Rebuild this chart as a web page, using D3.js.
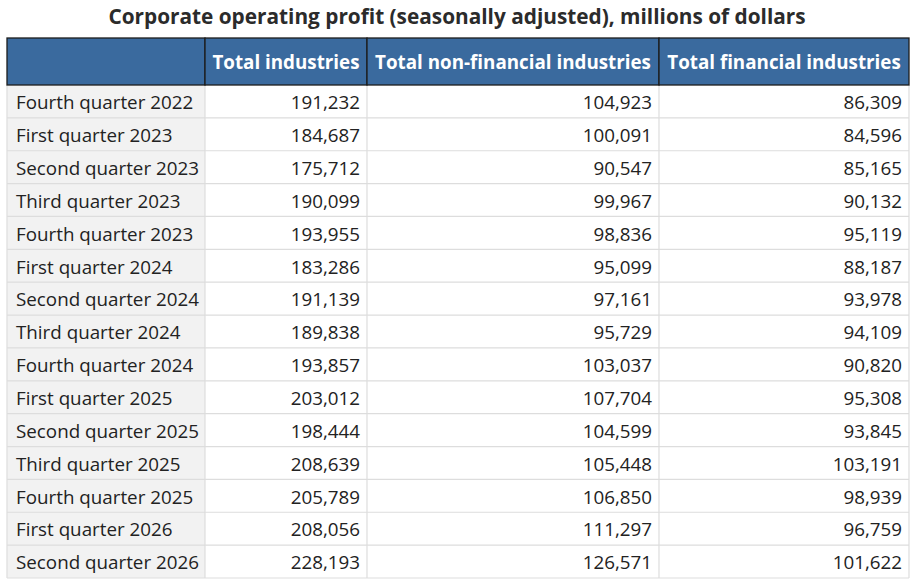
<!DOCTYPE html>
<html>
<head>
<meta charset="utf-8">
<script src="https://cdn.jsdelivr.net/npm/d3@7"></script>
<style>
  body { margin: 0; background: #fff; }
  svg text { font-family: "Open Sans", sans-serif; }
</style>
</head>
<body>
<div id="viz"></div>
<script>
var title = "Corporate operating profit (seasonally adjusted), millions of dollars";
var columns = ["Total industries", "Total non-financial industries", "Total financial industries"];
var quarters = [
  "Fourth quarter 2022", "First quarter 2023", "Second quarter 2023", "Third quarter 2023",
  "Fourth quarter 2023", "First quarter 2024", "Second quarter 2024", "Third quarter 2024",
  "Fourth quarter 2024", "First quarter 2025", "Second quarter 2025", "Third quarter 2025",
  "Fourth quarter 2025", "First quarter 2026", "Second quarter 2026"
];
var totalIndustries = [191232, 184687, 175712, 190099, 193955, 183286, 191139, 189838,
  193857, 203012, 198444, 208639, 205789, 208056, 228193];
var nonFinancial = [104923, 100091, 90547, 99967, 98836, 95099, 97161, 95729,
  103037, 107704, 104599, 105448, 106850, 111297, 126571];
var financial = [86309, 84596, 85165, 90132, 95119, 88187, 93978, 94109,
  90820, 95308, 93845, 103191, 98939, 96759, 101622];

var w = 912, h = 586;
var left = 7, right = 909;
var headTop = 38, headBottom = 85, tableBottom = 578;
// column edges (first col is labels)
var edges = [left, 205, 367, 659, right];

var rows = quarters.map(function(q, i){
  return { label: q, values: [totalIndustries[i], nonFinancial[i], financial[i]] };
});

var fmt = d3.format(",");

var y = d3.scaleBand()
  .domain(quarters)
  .range([headBottom, tableBottom]);

var svg = d3.select("#viz")
  .append("svg")
    .attr("width", w)
    .attr("height", h);

svg.append("text")
  .attr("x", w / 2 + 1)
  .attr("y", 16)
  .attr("text-anchor", "middle")
  .attr("dominant-baseline", "central")
  .style("font-size", "20.8px")
  .style("font-weight", "bold")
  .style("fill", "#2b2b2b")
  .text(title);

// body rows
var body = svg.append("g").attr("class", "body");

body.append("rect")
  .attr("x", edges[0])
  .attr("y", headBottom)
  .attr("width", edges[1] - edges[0])
  .attr("height", tableBottom - headBottom)
  .style("fill", "#f2f2f2");

var row = body.selectAll("g.row")
  .data(rows)
  .enter().append("g")
    .attr("class", "row")
    .attr("transform", function(d){ return "translate(0," + y(d.label) + ")"; });

row.append("line")
  .attr("x1", left).attr("x2", right)
  .attr("y1", y.bandwidth()).attr("y2", y.bandwidth())
  .style("stroke", "#dddddd")
  .style("stroke-width", 1.2);

row.append("text")
  .attr("x", edges[0] + 9)
  .attr("y", y.bandwidth() / 2 + 0.8)
  .attr("dominant-baseline", "central")
  .style("font-size", "18.8px")
  .style("fill", "#222")
  .text(function(d){ return d.label; });

row.selectAll("text.num")
  .data(function(d){ return d.values; })
  .enter().append("text")
    .attr("class", "num")
    .attr("x", function(d, i){ return edges[i + 2] - 7; })
    .attr("y", y.bandwidth() / 2 + 0.8)
    .attr("text-anchor", "end")
    .attr("dominant-baseline", "central")
    .style("font-size", "18.8px")
    .style("fill", "#222")
    .text(function(d){ return fmt(d); });

// vertical grid lines in body
body.selectAll("line.vcol")
  .data(edges)
  .enter().append("line")
    .attr("class", "vcol")
    .attr("x1", function(d){ return d; })
    .attr("x2", function(d){ return d; })
    .attr("y1", headBottom)
    .attr("y2", tableBottom)
    .style("stroke", "#dddddd")
    .style("stroke-width", 1.2);

// header
var head = svg.append("g").attr("class", "head");

head.selectAll("rect")
  .data(d3.range(4))
  .enter().append("rect")
    .attr("x", function(i){ return edges[i]; })
    .attr("y", headTop)
    .attr("width", function(i){ return edges[i + 1] - edges[i]; })
    .attr("height", headBottom - headTop)
    .style("fill", "#3a6a9e")
    .style("stroke", "#1c1c1c")
    .style("stroke-width", 1.3);

head.selectAll("text")
  .data(columns)
  .enter().append("text")
    .attr("x", function(d, i){ return (edges[i + 1] + edges[i + 2]) / 2; })
    .attr("y", (headTop + headBottom) / 2)
    .attr("text-anchor", "middle")
    .attr("dominant-baseline", "central")
    .style("font-size", "18.8px")
    .style("font-weight", "bold")
    .style("fill", "#fff")
    .text(function(d){ return d; });
</script>
</body>
</html>
